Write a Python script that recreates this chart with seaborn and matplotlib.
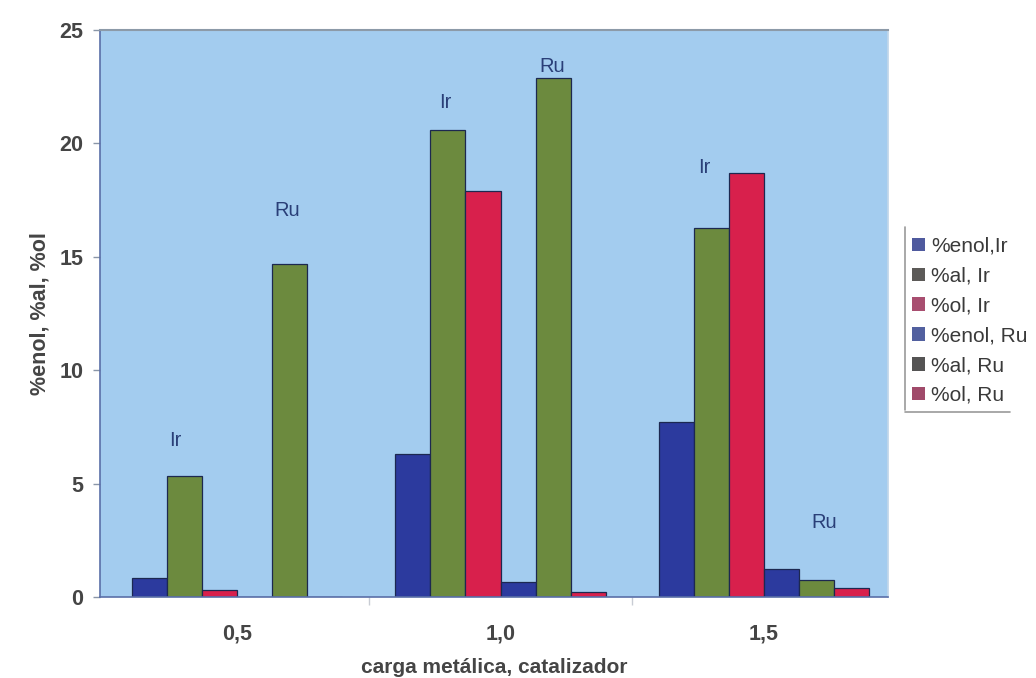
import numpy as np
import pandas as pd
import matplotlib
matplotlib.use("Agg")
import matplotlib.pyplot as plt
import seaborn as sns
from matplotlib.patches import Patch
from matplotlib.lines import Line2D

# Metal loading groups and the six measured series
loadings = ["0,5", "1,0", "1,5"]
series = ["%enol,Ir", "%al, Ir", "%ol, Ir", "%enol, Ru", "%al, Ru", "%ol, Ru"]
enol_ir = [0.85, 6.3, 7.7]
al_ir = [5.35, 20.6, 16.25]
ol_ir = [0.3, 17.9, 18.7]
enol_ru = [0.0, 0.65, 1.25]
al_ru = [14.7, 22.9, 0.75]
ol_ru = [0.0, 0.2, 0.4]

# Metal annotations above each cluster: (text, x, y)
metal_labels = ["Ir", "Ru", "Ir", "Ru", "Ir", "Ru"]
metal_x = [-0.235, 0.19, 0.79, 1.197, 1.773, 2.23]
metal_y = [6.9, 17.05, 21.8, 23.4, 18.95, 3.3]

values = [enol_ir, al_ir, ol_ir, enol_ru, al_ru, ol_ru]
df = pd.DataFrame({
    "carga": np.repeat([loadings], len(series), axis=0).ravel(),
    "serie": np.repeat(series, len(loadings)),
    "valor": np.concatenate(values),
})

bar_colors = ["#2c3a9e", "#6c8a3e", "#d8204c", "#2c3a9e", "#6c8a3e", "#d8204c"]
legend_colors = ["#4f5a9e", "#5c5a58", "#a84e70", "#52609f", "#555454", "#a04a6a"]

sns.set_theme(style="white")
plt.rcParams["font.family"] = ["Liberation Sans", "DejaVu Sans"]

fig = plt.figure(figsize=(10.36, 6.78), dpi=100)
fig.patch.set_facecolor("white")
ax = fig.add_axes([0.0965, 0.1195, 0.7605, 0.8363])
ax.set_facecolor("#a3ccef")

sns.barplot(data=df, x="carga", y="valor", hue="serie", hue_order=series,
            order=loadings, palette=bar_colors, width=0.8, saturation=1,
            edgecolor="#1c2850", linewidth=0.9, legend=False, ax=ax)

ax.set_xlim(-0.52, 2.47)
ax.set_ylim(0, 25)
ax.set_yticks([0, 5, 10, 15, 20, 25])

text_color = "#454545"
ax.tick_params(axis="y", which="major", length=5, width=1, color="#8a96a8",
               labelsize=15.5, labelcolor=text_color, pad=7, left=True)
ax.tick_params(axis="x", which="major", length=0, labelsize=15.5,
               labelcolor=text_color, pad=19)
ax.set_xticks([0.5, 1.5], minor=True)
ax.tick_params(axis="x", which="minor", length=6, width=1, color="#c8ccd4",
               bottom=True)
for lab in ax.get_xticklabels() + ax.get_yticklabels():
    lab.set_fontweight("bold")

for side in ["left", "bottom"]:
    ax.spines[side].set_color("#5a6fa8")
    ax.spines[side].set_linewidth(1.2)
ax.spines["top"].set_color("#8c9aa8")
ax.spines["top"].set_linewidth(1.5)
ax.spines["right"].set_color("#c0d6ea")

ax.set_xlabel("carga metálica, catalizador", fontsize=15, fontweight="bold",
              color=text_color, labelpad=10)
ax.set_ylabel("%enol, %al, %ol", fontsize=15.5, fontweight="bold",
              color=text_color, labelpad=6)

for txt, x, y in zip(metal_labels, metal_x, metal_y):
    ax.text(x, y, txt, fontsize=14.5, color="#2a3f78", ha="center", va="center")

handles = [Patch(facecolor=c, edgecolor="none") for c in legend_colors]
leg = fig.legend(handles, series, loc="upper left",
                 bbox_to_anchor=(0.872, 0.663), frameon=False,
                 fontsize=15, handlelength=0.62, handleheight=0.62,
                 handletextpad=0.3, labelspacing=0.52, borderaxespad=0)
for t in leg.get_texts():
    t.set_color("#3a3a3a")

# bracket lines framing the legend
fig.add_artist(Line2D([0.874, 0.874], [0.395, 0.665], color="#9a9a9a", lw=1.2))
fig.add_artist(Line2D([0.874, 0.975], [0.393, 0.393], color="#9a9a9a", lw=1.2))

fig.savefig("out.png", dpi=100, facecolor="white")
